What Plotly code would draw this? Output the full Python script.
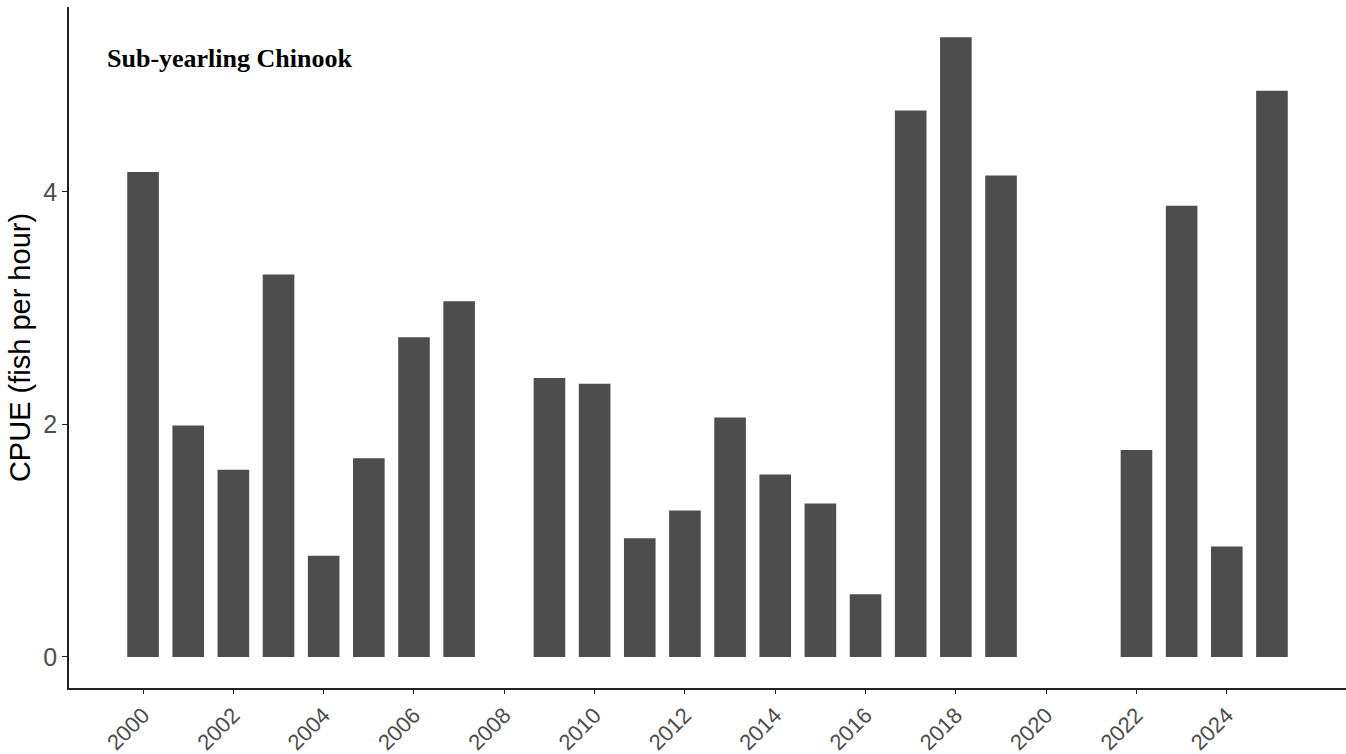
import plotly.graph_objects as go

# Sub-yearling Chinook catch per unit effort by year (no sampling in 2008, 2020, 2021)
years = [2000, 2001, 2002, 2003, 2004, 2005, 2006, 2007,
         2009, 2010, 2011, 2012, 2013, 2014, 2015, 2016,
         2017, 2018, 2019, 2022, 2023, 2024, 2025]
cpue = [4.17, 1.99, 1.61, 3.29, 0.87, 1.71, 2.75, 3.06,
        2.40, 2.35, 1.02, 1.26, 2.06, 1.57, 1.32, 0.54,
        4.70, 5.33, 4.14, 1.78, 3.88, 0.95, 4.87]

x_ticks = list(range(2000, 2025, 2))
y_ticks = [0, 2, 4]

BAR = "#4d4d4d"
AXIS = "#222222"
TICKTXT = "#4d4d4d"

fig = go.Figure(
    go.Bar(
        x=years,
        y=cpue,
        width=0.7,
        marker=dict(color=BAR, line=dict(width=0)),
        hovertemplate="%{x}: %{y:.2f}<extra></extra>",
    )
)

fig.update_layout(
    template="none",
    width=1346,
    height=754,
    margin=dict(l=69, r=0, t=7, b=66),
    plot_bgcolor="white",
    paper_bgcolor="white",
    showlegend=False,
    font=dict(family="Liberation Sans, Arial, sans-serif"),
    annotations=[
        dict(
            text="<b>Sub-yearling Chinook</b>",
            x=0.0285, xref="paper", xanchor="left",
            y=5.15, yref="y", yanchor="middle",
            showarrow=False,
            font=dict(family="Liberation Serif, Times New Roman, serif", size=26, color="black"),
        )
    ],
)

fig.update_xaxes(
    automargin=False,
    range=[1998.36, 2026.64],
    tickmode="array",
    tickvals=x_ticks,
    ticktext=[str(v) for v in x_ticks],
    tickangle=-45,
    ticks="outside",
    ticklen=4,
    tickwidth=1,
    tickcolor=AXIS,
    tickfont=dict(size=22, color=TICKTXT),
    showline=True,
    linecolor=AXIS,
    linewidth=1.5,
    showgrid=False,
    zeroline=False,
)

fig.update_yaxes(
    automargin=False,
    range=[-0.267, 5.59],
    tickmode="array",
    tickvals=y_ticks,
    ticktext=[str(v) for v in y_ticks],
    ticks="outside",
    ticklen=5,
    tickwidth=1,
    tickcolor=AXIS,
    tickfont=dict(size=25, color=TICKTXT),
    showline=True,
    linecolor=AXIS,
    linewidth=1.5,
    showgrid=False,
    zeroline=False,
    title=dict(text="CPUE (fish per hour)", font=dict(size=29, color="black"), standoff=4),
)

fig.write_html("out.html")
